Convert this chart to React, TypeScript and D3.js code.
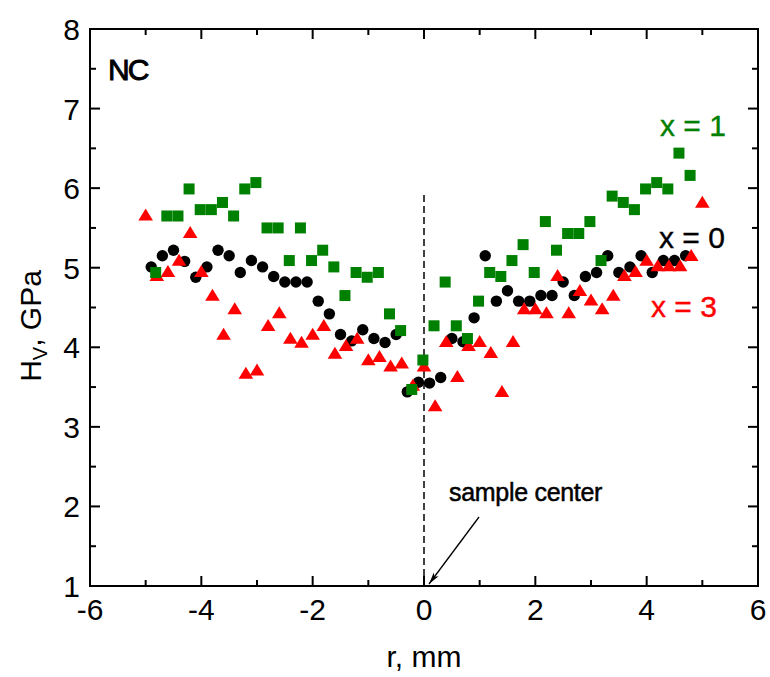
import React from "react";
import * as d3 from "d3";

const xTicks = [-6, -4, -2, 0, 2, 4, 6];
const yTicks = [1, 2, 3, 4, 5, 6, 7, 8];

const rX0 = [-4.9, -4.7, -4.5, -4.3, -4.1, -3.9, -3.7, -3.5, -3.3, -3.1, -2.9, -2.7, -2.5, -2.3, -2.1, -1.9, -1.7, -1.5, -1.3, -1.1, -0.9, -0.7, -0.5, -0.3, -0.1, 0.1, 0.3, 0.5, 0.7, 0.9, 1.1, 1.3, 1.5, 1.7, 1.9, 2.1, 2.3, 2.5, 2.7, 2.9, 3.1, 3.3, 3.5, 3.7, 3.9, 4.1, 4.3, 4.5, 4.7];
const hX0 = [5.01, 5.15, 5.22, 5.08, 4.88, 5.01, 5.22, 5.15, 4.94, 5.09, 5.01, 4.89, 4.82, 4.82, 4.82, 4.58, 4.42, 4.16, 4.08, 4.22, 4.11, 4.06, 4.16, 3.44, 3.56, 3.55, 3.62, 4.11, 4.07, 4.37, 5.15, 4.58, 4.71, 4.58, 4.58, 4.65, 4.65, 4.82, 4.65, 4.89, 4.94, 5.15, 4.94, 5.01, 5.15, 4.94, 5.09, 5.09, 5.15];

const rX1 = [-4.82, -4.62, -4.42, -4.22, -4.02, -3.82, -3.62, -3.42, -3.22, -3.02, -2.82, -2.62, -2.42, -2.22, -2.02, -1.82, -1.62, -1.42, -1.22, -1.02, -0.82, -0.62, -0.42, -0.22, -0.02, 0.18, 0.38, 0.58, 0.78, 0.98, 1.18, 1.38, 1.58, 1.78, 1.98, 2.18, 2.38, 2.58, 2.78, 2.98, 3.18, 3.38, 3.58, 3.78, 3.98, 4.18, 4.38, 4.58, 4.78];
const hX1 = [4.94, 5.65, 5.65, 5.99, 5.73, 5.73, 5.82, 5.65, 5.99, 6.07, 5.5, 5.5, 5.09, 5.5, 5.09, 5.22, 5.01, 4.65, 4.94, 4.88, 4.94, 4.42, 4.21, 3.47, 3.84, 4.27, 4.82, 4.27, 4.11, 4.58, 4.94, 4.89, 5.09, 5.29, 4.94, 5.58, 5.22, 5.43, 5.43, 5.58, 5.09, 5.9, 5.82, 5.73, 5.99, 6.07, 5.99, 6.44, 6.16];

const rX3 = [-5.0, -4.8, -4.6, -4.4, -4.2, -4.0, -3.8, -3.6, -3.4, -3.2, -3.0, -2.8, -2.6, -2.4, -2.2, -2.0, -1.8, -1.6, -1.4, -1.2, -1.0, -0.8, -0.6, -0.4, -0.2, 0.0, 0.2, 0.4, 0.6, 0.8, 1.0, 1.2, 1.4, 1.6, 1.8, 2.0, 2.2, 2.4, 2.6, 2.8, 3.0, 3.2, 3.4, 3.6, 3.8, 4.0, 4.2, 4.4, 4.6, 4.8, 5.0];
const hX3 = [5.67, 4.91, 4.96, 5.1, 5.45, 4.96, 4.66, 4.17, 4.49, 3.68, 3.72, 4.28, 4.44, 4.12, 4.07, 4.17, 4.28, 3.93, 4.03, 4.12, 3.85, 3.89, 3.77, 3.81, 3.53, 3.77, 3.27, 4.08, 3.64, 4.03, 4.08, 3.94, 3.45, 4.08, 4.49, 4.49, 4.44, 4.91, 4.44, 4.72, 4.6, 4.49, 4.66, 4.91, 4.96, 5.1, 5.03, 5.03, 5.03, 5.16, 5.83];

const FONT = "'Liberation Sans', Arial, sans-serif";

export default function App() {
  const L = 90, R = 758, T = 29, B = 586;
  const x = d3.scaleLinear().domain([-6, 6]).range([L, R]);
  const y = d3.scaleLinear().domain([1, 8]).range([B, T]);
  const xMinor = d3.range(-6, 6.001, 1).filter((v) => !xTicks.includes(v));
  const yMinor = d3.range(1, 8.001, 0.5).filter((v) => !yTicks.includes(v));
  const tri = "M0,-6 L7.3,6 L-7.3,6 Z";

  return (
    <svg width={770} height={677} style={{ position: "absolute", left: 0, top: 0, background: "#fff" }} fontFamily={FONT}>
      <defs>
        <marker id="ah" viewBox="0 0 12 8" refX="12" refY="4" markerWidth="12" markerHeight="8" markerUnits="userSpaceOnUse" orient="auto">
          <path d="M0,1 L12,4 L0,7 L3,4 Z" fill="#000" />
        </marker>
      </defs>
      <g stroke="#000" strokeWidth={2}>
        {xTicks.map((v) => (
          <g key={"xt" + v}>
            <line x1={x(v)} x2={x(v)} y1={B} y2={B - 10} />
            <line x1={x(v)} x2={x(v)} y1={T} y2={T + 10} />
          </g>
        ))}
        {xMinor.map((v) => (
          <g key={"xm" + v}>
            <line x1={x(v)} x2={x(v)} y1={B} y2={B - 6} />
            <line x1={x(v)} x2={x(v)} y1={T} y2={T + 6} />
          </g>
        ))}
        {yTicks.map((v) => (
          <g key={"yt" + v}>
            <line x1={L} x2={L + 10} y1={y(v)} y2={y(v)} />
            <line x1={R} x2={R - 10} y1={y(v)} y2={y(v)} />
          </g>
        ))}
        {yMinor.map((v) => (
          <g key={"ym" + v}>
            <line x1={L} x2={L + 6} y1={y(v)} y2={y(v)} />
            <line x1={R} x2={R - 6} y1={y(v)} y2={y(v)} />
          </g>
        ))}
      </g>
      <rect x={L} y={T} width={R - L} height={B - T} fill="none" stroke="#000" strokeWidth={2} />
      {xTicks.map((v) => (
        <text key={"xl" + v} x={x(v)} y={620} fontSize={30} textAnchor="middle">{v < 0 ? "-" + Math.abs(v) : v}</text>
      ))}
      {yTicks.map((v) => (
        <text key={"yl" + v} x={80} y={y(v) + 11} fontSize={30} textAnchor="end">{v}</text>
      ))}
      <text x={x(0)} y={667} fontSize={30} textAnchor="middle">r, mm</text>
      <text transform="translate(41,326) rotate(-90)" fontSize={30} textAnchor="middle">
        H<tspan fontSize={20} dy={6}>V</tspan><tspan dy={-6}>, GPa</tspan>
      </text>
      <line x1={x(0)} x2={x(0)} y1={195} y2={B} stroke="#000" strokeWidth={1.5} strokeDasharray="7,4" />
      <g fill="#000">
        {rX0.map((r, i) => (
          <circle key={"b" + i} cx={x(r)} cy={y(hX0[i])} r={5.7} />
        ))}
      </g>
      <g fill="#ff0000">
        {rX3.map((r, i) => (
          <path key={"r" + i} d={tri} transform={`translate(${x(r)},${y(hX3[i])})`} />
        ))}
      </g>
      <g fill="#008000">
        {rX1.map((r, i) => (
          <rect key={"g" + i} x={x(r) - 5.5} y={y(hX1[i]) - 5.5} width={11} height={11} />
        ))}
      </g>
      <text x={108} y={80} fontSize={30} letterSpacing={-2} stroke="#000" strokeWidth={0.9}>NC</text>
      <text x={660} y={136} fontSize={30} fill="#008000" stroke="#008000" strokeWidth={0.4}>x = 1</text>
      <text x={659} y={248} fontSize={30} fill="#000" stroke="#000" strokeWidth={0.4}>x = 0</text>
      <text x={651} y={317} fontSize={30} fill="#ff0000" stroke="#ff0000" strokeWidth={0.4}>x = 3</text>
      <text x={449} y={501} fontSize={25} stroke="#000" strokeWidth={0.5} letterSpacing={-0.3}>sample center</text>
      <line x1={479} y1={517} x2={429} y2={584} stroke="#000" strokeWidth={1.3} markerEnd="url(#ah)" />
    </svg>
  );
}
